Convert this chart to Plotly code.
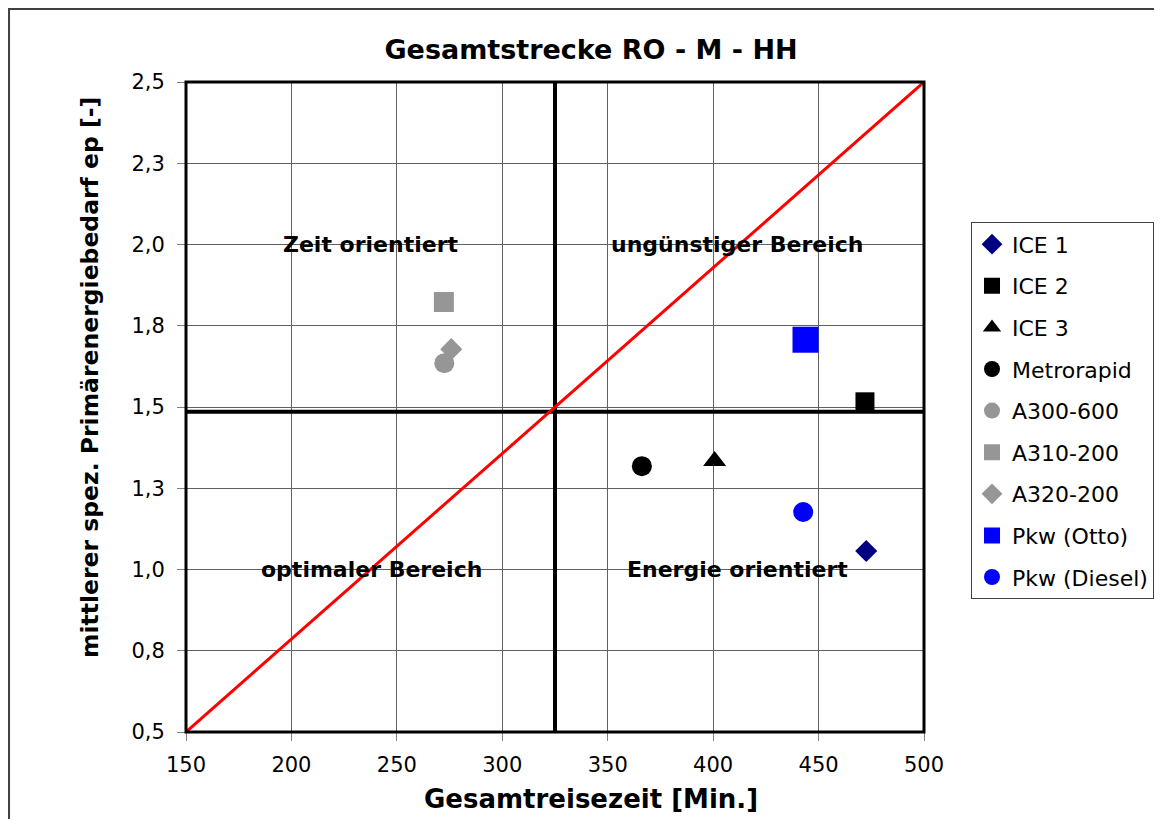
import plotly.graph_objects as go

# ---- data ----
series_names = ["ICE 1", "ICE 2", "ICE 3", "Metrorapid", "A300-600", "A310-200",
                "A320-200", "Pkw (Otto)", "Pkw (Diesel)"]
travel_time = [472.6, 472.0, 400.7, 366.2, 272.5, 272.3, 275.8, 443.8, 442.7]
energy_ep = [1.057, 1.516, 1.334, 1.318, 1.635, 1.823, 1.678, 1.707, 1.177]
marker_symbols = ["diamond", "square", "triangle-up", "circle", "circle", "square",
                  "diamond", "square", "circle"]
marker_colors = ["#000080", "#000000", "#000000", "#000000", "#969696", "#969696",
                 "#969696", "#0000FF", "#0000FF"]
marker_sizes = [17, 19, 20, 20, 20, 20, 17, 26, 20]

diag_x = [150, 500]
diag_y = [0.5, 2.5]
vline_x = [325, 325]
vline_y = [0.5, 2.5]
hline_x = [150, 500]
hline_y = [1.485, 1.485]

x_ticks = [150, 200, 250, 300, 350, 400, 450, 500]
y_ticks = [0.5, 0.75, 1.0, 1.25, 1.5, 1.75, 2.0, 2.25, 2.5]
y_ticktext = ["0,5", "0,8", "1,0", "1,3", "1,5", "1,8", "2,0", "2,3", "2,5"]

region_labels = ["Zeit orientiert", "ungünstiger Bereich", "optimaler Bereich", "Energie orientiert"]
region_x = [237.5, 411.5, 238, 411.5]
region_y = [2.0, 2.0, 1.0, 1.0]

FONT = "DejaVu Sans"

fig = go.Figure()

# divider lines and diagonal
fig.add_trace(go.Scatter(x=vline_x, y=vline_y, mode="lines", line=dict(color="black", width=4),
                         showlegend=False, hoverinfo="skip"))
fig.add_trace(go.Scatter(x=hline_x, y=hline_y, mode="lines", line=dict(color="black", width=4),
                         showlegend=False, hoverinfo="skip"))
fig.add_trace(go.Scatter(x=diag_x, y=diag_y, mode="lines", line=dict(color="#FF0000", width=3),
                         showlegend=False, hoverinfo="skip"))

for i, name in enumerate(series_names):
    fig.add_trace(go.Scatter(
        x=[travel_time[i]], y=[energy_ep[i]], mode="markers", name=name,
        legendgroup=name,
        marker=dict(symbol=marker_symbols[i], color=marker_colors[i], size=marker_sizes[i],
                    line=dict(width=0)),
    ))

for t, xx, yy in zip(region_labels, region_x, region_y):
    fig.add_annotation(x=xx, y=yy, text="<b>%s</b>" % t, showarrow=False,
                       font=dict(family=FONT, size=22, color="black"),
                       xanchor="center", yanchor="middle")

# axis titles as annotations
fig.add_annotation(xref="paper", yref="paper", x=0.549, y=-0.103,
                   text="<b>Gesamtreisezeit [Min.]</b>", showarrow=False,
                   font=dict(family=FONT, size=26, color="black"),
                   xanchor="center", yanchor="middle")
fig.add_annotation(xref="paper", yref="paper", x=-0.131, y=0.545,
                   text="<b>mittlerer spez. Primärenergiebedarf ep [-]</b>", showarrow=False,
                   textangle=-90, font=dict(family=FONT, size=23.5, color="black"),
                   xanchor="center", yanchor="middle")

# plot frame
fig.add_shape(type="rect", xref="paper", yref="paper", x0=0, x1=1, y0=0, y1=1,
              line=dict(color="black", width=3), layer="above")
# outer chart border
fig.add_shape(type="rect", xref="paper", yref="paper", x0=-0.2398, x1=1.3266, y0=-0.16, y1=1.1123,
              line=dict(color="#404040", width=2), layer="above")

fig.update_layout(
    width=1162, height=819,
    margin=dict(l=178, r=246, t=74, b=95),
    paper_bgcolor="white", plot_bgcolor="white",
    font=dict(family=FONT, size=21, color="black"),
    title=dict(text="<b>Gesamtstrecke RO - M - HH</b>", x=583 / 1162, y=1 - 42 / 819,
               xanchor="center", yanchor="middle", xref="container", yref="container",
               font=dict(family=FONT, size=27, color="black")),
    xaxis=dict(range=[150, 500], tickvals=x_ticks, showgrid=True, gridcolor="#606060", gridwidth=1,
               zeroline=False, ticks="outside", ticklen=8, tickcolor="#808080",
               tickfont=dict(family=FONT, size=21), showline=False, ticklabelstandoff=6),
    yaxis=dict(range=[0.5, 2.5], tickvals=y_ticks, ticktext=y_ticktext, showgrid=True,
               gridcolor="#606060", gridwidth=1, zeroline=False, ticks="outside", ticklen=8,
               tickcolor="#808080", tickfont=dict(family=FONT, size=21), showline=False,
               ticklabelstandoff=8),
    legend=dict(x=1.0637, y=0.784, xanchor="left", yanchor="top",
                bordercolor="#404040", borderwidth=1, bgcolor="white",
                font=dict(family=FONT, size=22, color="black"),
                tracegroupgap=10, traceorder="grouped"),
)

fig.write_html("out.html")
